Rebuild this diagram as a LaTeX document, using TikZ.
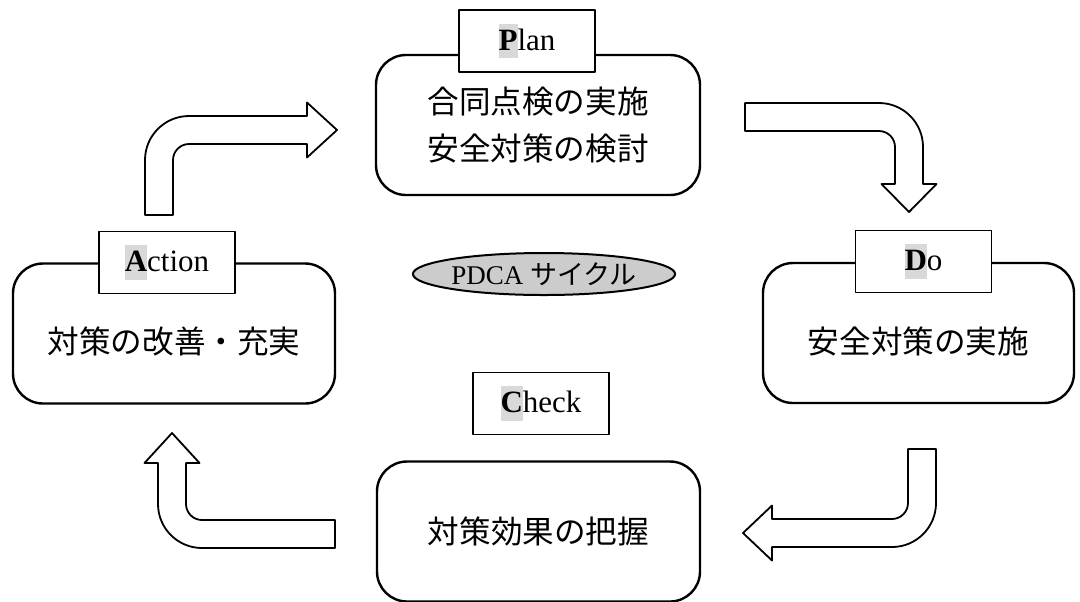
\documentclass[tikz,border=0pt]{standalone}
\usepackage{fontspec}
\setmainfont{Liberation Serif}
\newfontfamily\jp{Noto Sans CJK JP}
\usetikzlibrary{shapes.geometric}
\definecolor{hlgray}{RGB}{217,217,217}
\newcommand{\hlfirst}[1]{{\setlength{\fboxsep}{0pt}\colorbox{hlgray}{\rule[-0.25em]{0pt}{1.1em}\textbf{#1}}}}

\begin{document}
\begin{tikzpicture}[x=0.5pt, y=-0.5pt, line join=round,
  stage/.style={draw, rounded corners=15pt, line width=1.2pt, minimum height=70pt, inner sep=0pt, align=center, font=\fontsize{15.8}{23.5}\selectfont\jp},
  low/.style={text height=20pt, text depth=0pt},
  tag/.style={draw, fill=white, line width=0.6pt, minimum width=68pt, minimum height=31pt, inner sep=0pt, font=\fontsize{15.5}{18}\selectfont},
  bent/.style={draw, fill=white, line width=0.9pt}]
\useasboundingbox (0,0) rectangle (1080,601);

\node[stage, minimum width=162pt] (plan) at (538,125) {合同点検の実施\\安全対策の検討};
\node[stage, low, minimum width=155.5pt] (do) at (918.5,333) {安全対策の実施};
\node[stage, low, minimum width=161pt] (act) at (174,333.5) {対策の改善・充実};
\node[stage, minimum width=161.5pt] (chk) at (538.5,531.5) {対策効果の把握};

\node[tag] (plantag) at (527,41) {\hlfirst{P}lan};
\node[tag] (dotag) at (923.5,261.5) {\hlfirst{D}o};
\node[tag] (acttag) at (167,262.5) {\hlfirst{A}ction};
\node[tag] (chktag) at (541,403.5) {\hlfirst{C}heck};

\node[ellipse, draw, fill=black!20, line width=1pt, minimum width=127pt, minimum height=21pt, inner sep=0pt, font=\fontsize{13.5}{16}\selectfont] (pdca) at (544,274) {PDCA {\jp サイクル}};

\draw[bent] (145,215) -- (145,160) .. controls (145,135.7) and (164.7,116) .. (189,116) -- (307,116) -- (307,102.5) -- (337,130) -- (307,157.5) -- (307,144) -- (189,144) .. controls (180.2,144) and (173,151.2) .. (173,160) -- (173,215) -- cycle;
\draw[bent] (745,103) -- (879,103) .. controls (903.3,103) and (923,122.7) .. (923,147) -- (923,184) -- (936.5,184) -- (909,212) -- (881.5,184) -- (895,184) -- (895,147) .. controls (895,138.2) and (887.8,131) .. (879,131) -- (745,131) -- cycle;
\draw[bent] (908,449) -- (936,449) -- (936,503) .. controls (936,527.3) and (916.3,547) .. (892,547) -- (772,547) -- (772,560.5) -- (743,533) -- (772,505.5) -- (772,519) -- (892,519) .. controls (900.8,519) and (908,511.8) .. (908,503) -- cycle;
\draw[bent] (335,548) -- (202,548) .. controls (177.7,548) and (158,528.3) .. (158,504) -- (158,463) -- (144.5,463) -- (172,433) -- (199.5,463) -- (186,463) -- (186,504) .. controls (186,512.8) and (193.2,520) .. (202,520) -- (335,520) -- cycle;
\end{tikzpicture}
\end{document}
